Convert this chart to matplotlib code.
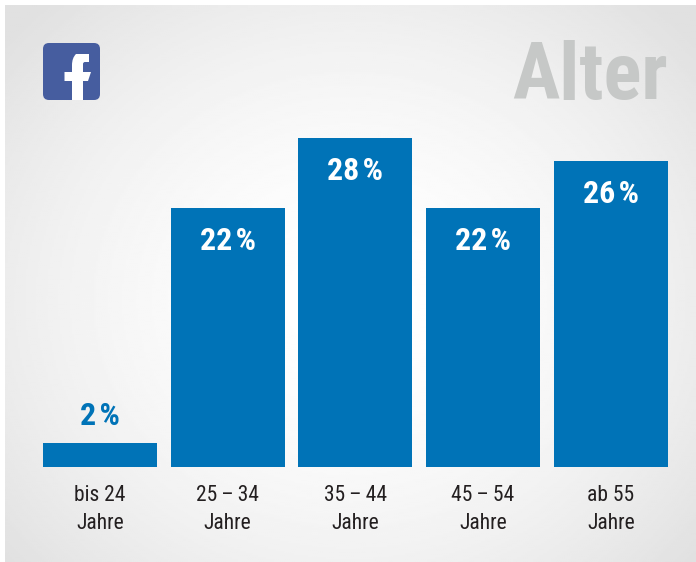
#!/usr/bin/env python

import numpy as np
import matplotlib
matplotlib.use("Agg")
import matplotlib.pyplot as plt
from matplotlib.patches import FancyBboxPatch, PathPatch
from matplotlib.path import Path

plt.rcParams['font.family'] = ['Roboto Condensed', 'Roboto', 'DejaVu Sans']

categories = ["bis 24\nJahre", "25\u2009–\u200934\nJahre", "35\u2009–\u200944\nJahre", "45\u2009–\u200954\nJahre", "ab 55\nJahre"]
shares = [2, 22, 28, 22, 26]
title = "Alter"

W, H = 696, 562
BLUE = "#0073b7"
fig = plt.figure(figsize=(W / 100, H / 100), dpi=100, facecolor="white")

# background panel with soft radial gradient, in pixel coordinates
bg = fig.add_axes([0, 0, 1, 1])
xx, yy = np.meshgrid(np.linspace(5, W, 346), np.linspace(5, H, 280))
r = np.sqrt(((xx - 350) / 450) ** 2 + ((yy - 300) / 400) ** 2)
shade = 1.0 - 0.118 * np.clip(r, 0, 1) ** 1.8
bg.imshow(shade, extent=[5, W, H, 5], cmap="gray", vmin=0, vmax=1, aspect="auto", interpolation="bilinear")
bg.set_xlim(0, W)
bg.set_ylim(H, 0)
bg.axis("off")

# facebook logo
bg.add_patch(FancyBboxPatch((47, 47), 49, 49, boxstyle="round,pad=4,rounding_size=6",
                            fc="#465d9f", ec="none"))
verts = [(72, 100), (72, 81), (64.5, 81), (64.5, 72), (72, 72), (72, 65),
         (72, 58), (76, 54), (83, 54), (89, 54), (89, 62), (85, 62), (83, 62), (83, 64),
         (83, 72), (91, 72), (88, 81), (83, 81), (83, 100), (72, 100)]
codes = [Path.MOVETO, Path.LINETO, Path.LINETO, Path.LINETO, Path.LINETO, Path.LINETO,
         Path.CURVE3, Path.CURVE3, Path.LINETO, Path.LINETO, Path.LINETO, Path.LINETO,
         Path.CURVE3, Path.CURVE3, Path.LINETO, Path.LINETO, Path.LINETO, Path.LINETO,
         Path.LINETO, Path.CLOSEPOLY]
bg.add_patch(PathPatch(Path(verts, codes), fc="white", ec="none"))

bg.text(668, 99, title, ha="right", va="baseline", fontsize=57, fontweight="bold", color="#c6c8c7")

# bars
ax = fig.add_axes([42.8 / W, 1 - 467 / H, 625 / W, 329.4 / H])
ax.patch.set_alpha(0)
x = np.arange(len(shares))
ax.bar(x, shares, width=0.892, color=BLUE)
ax.set_xlim(-0.446, 4.446)
ax.set_ylim(0, 28)
for s in ax.spines.values():
    s.set_visible(False)
ax.set_yticks([])
ax.set_xticks(x)
ax.set_xticklabels(categories, fontsize=15.5, color="#231f20", linespacing=1.43)
ax.tick_params(axis="x", length=0, pad=13)

for xi, v in zip(x, shares):
    label = "%d\u200a%%" % v
    if v < 5:
        ax.annotate(label, (xi, v), xytext=(0, 9), textcoords="offset points",
                    ha="center", va="bottom", fontsize=23, fontweight="bold", color=BLUE)
    else:
        ax.annotate(label, (xi, v), xytext=(0, -13), textcoords="offset points",
                    ha="center", va="top", fontsize=23, fontweight="bold", color="white")

fig.savefig("out.png", dpi=100)
